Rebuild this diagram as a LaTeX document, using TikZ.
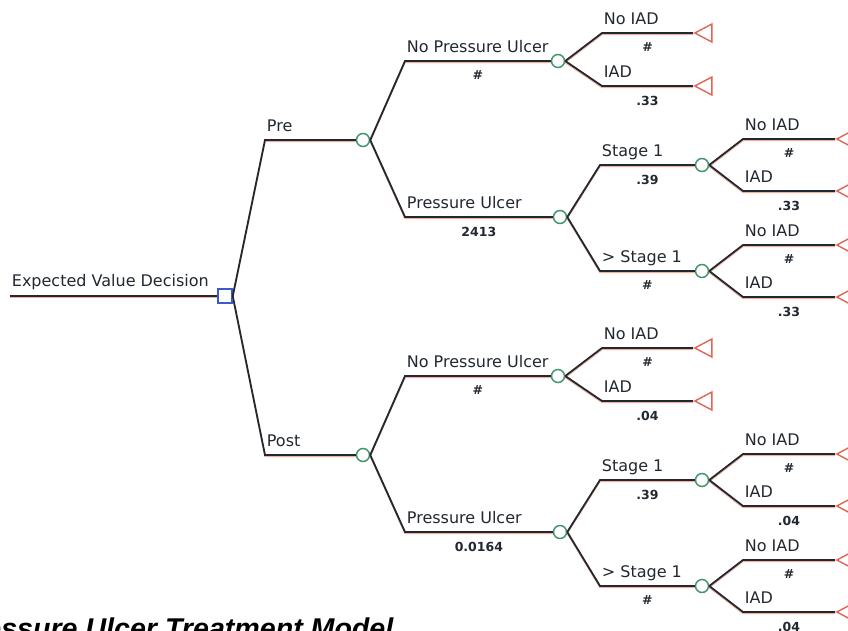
\documentclass[tikz,border=0pt]{standalone}
\usepackage{fontspec}
\setmainfont{DejaVu Sans}
\newfontfamily\titlefont{Liberation Sans}
\usetikzlibrary{shapes.geometric}

\definecolor{treeline}{RGB}{34,40,48}
\definecolor{shadowred}{RGB}{244,176,156}
\definecolor{chancegreen}{RGB}{66,150,108}
\definecolor{decblue}{RGB}{60,90,205}
\definecolor{termred}{RGB}{226,100,84}

\tikzset{
  branch/.style={treeline, line width=1.8pt,
    preaction={draw=shadowred, line width=1.3pt, transform canvas={yshift=-1.5pt}}},
  chance/.style={circle, draw=chancegreen, fill=white, line width=1.5pt, minimum size=13pt, inner sep=0pt},
  decision/.style={rectangle, draw=decblue, fill=white, line width=1.5pt, minimum size=14pt, inner sep=0pt},
  terminal/.style={isosceles triangle, shape border rotate=180, isosceles triangle stretches,
    draw=termred, fill=white, line width=1.4pt, inner sep=0pt, minimum height=17pt, minimum width=18pt, anchor=apex},
  brlabel/.style={anchor=base west, inner sep=0pt, xshift=1pt, yshift=9pt, font=\fontsize{16}{18}\selectfont},
  prob/.style={inner sep=0pt, font=\bfseries\fontsize{12.5}{14}\selectfont},
}

% one branch: from node, bend, to node, name, probability
\newcommand{\twig}[5]{%
  \draw[branch] (#1.east) -- (#2) node[brlabel] (#2-name) {#4}
    -- (#3) node[prob, midway, below=9pt] (#2-prob) {#5};
}

\begin{document}
\begin{tikzpicture}[x=1pt, y=-1pt]
  \useasboundingbox (0,0) rectangle (848,630);
  \clip (0,0) rectangle (848,630);

  % Decision
  \coordinate (root) at (10,296);
  \node[decision] (dec) at (225,296) {};
  \draw[branch] (root) node[brlabel, yshift=1pt] (evd) {Expected Value Decision} -- (dec);

  \foreach \half/\dy/\arm/\pu/\iad in {pre/0/Pre/2413/.33, post/315/Post/0.0164/.04} {
    % Chance nodes
    \node[chance] (\half) at (363,140+\dy) {};
    \node[chance] (\half-npu) at (558,61+\dy) {};
    \node[chance] (\half-pu) at (560,217+\dy) {};
    \node[chance] (\half-s1) at (702,165+\dy) {};
    \node[chance] (\half-s2) at (702,271+\dy) {};

    % Terminal nodes
    \node[terminal] (\half-t1) at (693,33+\dy) {};
    \node[terminal] (\half-t2) at (693,86+\dy) {};
    \node[terminal] (\half-t3) at (835,139+\dy) {};
    \node[terminal] (\half-t4) at (835,191+\dy) {};
    \node[terminal] (\half-t5) at (835,245+\dy) {};
    \node[terminal] (\half-t6) at (835,297+\dy) {};

    % Bends
    \coordinate (\half-b0) at (265,140+\dy);
    \coordinate (\half-bnpu) at (405,61+\dy);
    \coordinate (\half-bpu) at (405,217+\dy);
    \coordinate (\half-b1) at (602,33+\dy);
    \coordinate (\half-b2) at (602,86+\dy);
    \coordinate (\half-bs1) at (600,165+\dy);
    \coordinate (\half-bs2) at (600,271+\dy);
    \coordinate (\half-b3) at (743,139+\dy);
    \coordinate (\half-b4) at (743,191+\dy);
    \coordinate (\half-b5) at (743,245+\dy);
    \coordinate (\half-b6) at (743,297+\dy);

    % Branches
    \draw[branch] (dec.east) -- (\half-b0) node[brlabel] (\half-arm) {\arm} -- (\half);
    \twig{\half}{\half-bnpu}{\half-npu}{No Pressure Ulcer}{\#}
    \twig{\half}{\half-bpu}{\half-pu}{Pressure Ulcer}{\pu}
    \twig{\half-npu}{\half-b1}{\half-t1}{No IAD}{\#}
    \twig{\half-npu}{\half-b2}{\half-t2}{IAD}{\iad}
    \twig{\half-pu}{\half-bs1}{\half-s1}{Stage 1}{.39}
    \twig{\half-pu}{\half-bs2}{\half-s2}{> Stage 1}{\#}
    \twig{\half-s1}{\half-b3}{\half-t3}{No IAD}{\#}
    \twig{\half-s1}{\half-b4}{\half-t4}{IAD}{\iad}
    \twig{\half-s2}{\half-b5}{\half-t5}{No IAD}{\#}
    \twig{\half-s2}{\half-b6}{\half-t6}{IAD}{\iad}
  }

  % Caption
  \node[anchor=base west, inner sep=0pt, font=\titlefont\bfseries\itshape\fontsize{28.6}{30}\selectfont] (title) at (-45,638) {Pressure Ulcer Treatment Model};
\end{tikzpicture}
\end{document}
